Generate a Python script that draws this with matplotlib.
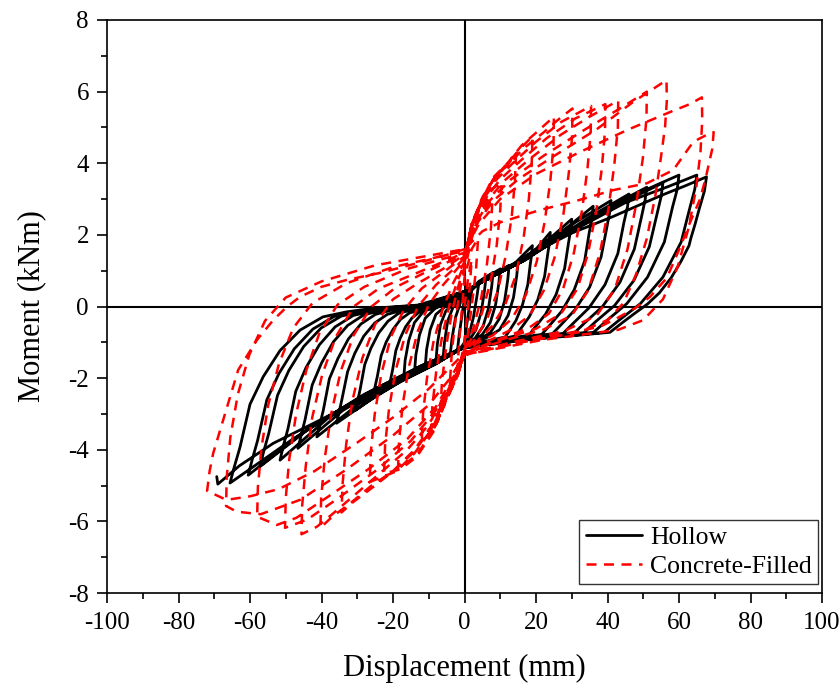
import matplotlib
matplotlib.use("Agg")
import matplotlib.pyplot as plt
import numpy as np
from matplotlib.ticker import MultipleLocator

plt.rcParams['font.family'] = ['Liberation Serif', 'DejaVu Serif']
plt.rcParams['axes.unicode_minus'] = False

# ---------------- data (displacement mm, moment kNm) ----------------
hollow_cycles = [
    [(0,0.0),(1,0.25),(2,0.45),(1.5,0.1),(0.5,-0.6),(0,-1.0),(-1,-1.15),(-2,-1.25),(-1.5,-0.8),(-0.5,-0.1),(0,0.2)],
    [(0,0.2),(2,0.45),(4,0.65),(3.5,0.3),(2.5,-0.3),(1,-0.9),(0,-1.1),(-2,-1.25),(-4,-1.35),(-3.5,-0.9),(-2.5,-0.3),(-1,0.15),(0,0.3)],
    [(0,0.3),(3,0.6),(6,0.8),(5.6,0.45),(4.7,-0.15),(3.2,-0.65),(1,-1.0),(0,-1.1),(-3,-1.3),(-6,-1.45),(-5.6,-1.0),(-4.7,-0.4),(-3.2,-0.02),(-1,0.2),(0,0.3)],
    [(0,0.3),(4,0.7),(8,0.95),(7.6,0.55),(6.7,-0.05),(5.2,-0.55),(3,-0.88),(0,-1.1),(-4,-1.35),(-8,-1.55),(-7.6,-1.05),(-6.7,-0.5),(-5.2,-0.12),(-2,0.15),(0,0.3)],
    [(0,0.3),(5,0.75),(10,1.05),(9.6,0.65),(8.7,0.05),(7.2,-0.45),(5,-0.78),(2,-1.0),(0,-1.1),(-5,-1.4),(-11,-1.7),(-10.6,-1.2),(-9.6,-0.65),(-8,-0.22),(-5,0.03),(-2,0.2),(0,0.35)],
    [(0,0.35),(6,0.8),(12.5,1.15),(12.1,0.75),(11.2,0.15),(9.7,-0.35),(7.3,-0.72),(4,-0.93),(0,-1.1),(-6,-1.45),(-14,-1.85),(-13.6,-1.35),(-12.6,-0.8),(-11,-0.33),(-8,-0.03),(-4,0.13),(0,0.35)],
    [(0,0.35),(7,0.85),(15,1.25),(14.6,0.85),(13.7,0.25),(12.2,-0.25),(9.8,-0.65),(6,-0.88),(0,-1.1),(-7,-1.5),(-17,-2.0),(-16.6,-1.5),(-15.6,-0.95),(-14,-0.45),(-11,-0.08),(-6,0.1),(0,0.38)],
    [(0,0.38),(8,0.9),(14,1.2),(19,1.7),(18.8,1.47),(18.4,1.18),(17.7,0.61),(16.2,0.04),(14.4,-0.39),(12.6,-0.67),(11.4,-0.85),(6,-0.97),(0,-1.12),(-8,-1.55),(-15,-1.85),(-21,-2.2),(-20.6,-2.0),(-20.1,-1.76),(-19.2,-1.23),(-18,-0.89),(-16.5,-0.57),(-14.7,-0.32),(-12.7,-0.16),(-10.6,-0.1),(-8.2,-0.05),(-4,0.15),(0,0.4)],
    [(0,0.4),(8,0.9),(15,1.25),(20,1.6),(24,2.07),(23.8,1.8),(23.3,1.48),(22.4,0.84),(20.5,0.19),(18.1,-0.29),(15.8,-0.61),(14.4,-0.82),(7,-0.97),(0,-1.12),(-8,-1.6),(-17,-2.05),(-25.5,-2.45),(-25,-2.23),(-24.4,-1.96),(-23.3,-1.37),(-21.9,-0.99),(-20,-0.64),(-17.9,-0.36),(-15.4,-0.18),(-12.8,-0.11),(-9.9,-0.05),(-5,0.15),(0,0.4)],
    [(0,0.4),(8,0.9),(15,1.25),(20,1.6),(25,2.0),(30,2.44),(29.7,2.14),(29.1,1.78),(28,1.06),(25.6,0.33),(22.7,-0.21),(19.8,-0.57),(18,-0.8),(9,-0.95),(0,-1.12),(-8,-1.6),(-17,-2.05),(-24,-2.45),(-30.5,-2.9),(-29.9,-2.64),(-29.2,-2.32),(-27.9,-1.62),(-26.2,-1.17),(-24,-0.74),(-21.4,-0.41),(-18.4,-0.19),(-15.3,-0.11),(-11.9,-0.05),(-6,0.12),(0,0.42)],
    [(0,0.42),(8,0.88),(15,1.2),(20,1.55),(28,2.15),(36,2.8),(35.7,2.47),(34.9,2.07),(33.6,1.27),(30.7,0.47),(27.2,-0.13),(23.8,-0.53),(21.6,-0.78),(11,-0.93),(0,-1.12),(-8,-1.6),(-18,-2.1),(-27,-2.65),(-35.8,-3.26),(-35.1,-2.96),(-34.3,-2.6),(-32.7,-1.82),(-30.7,-1.31),(-28.2,-0.83),(-25.1,-0.46),(-21.6,-0.22),(-18,-0.12),(-14,-0.06),(-7,0.1),(0,0.42)],
    [(0,0.42),(8,0.85),(16,1.25),(22,1.7),(31,2.35),(41,2.96),(40.6,2.62),(39.8,2.2),(38.2,1.38),(35,0.54),(31,-0.08),(27.1,-0.5),(24.6,-0.76),(12,-0.93),(0,-1.12),(-9,-1.6),(-20,-2.15),(-30,-2.75),(-41.3,-3.64),(-40.5,-3.31),(-39.5,-2.9),(-37.8,-2.02),(-35.4,-1.45),(-32.5,-0.91),(-29,-0.49),(-24.9,-0.22),(-20.8,-0.11),(-16.1,-0.04),(-8,0.08),(0,0.42)],
    [(0,0.42),(8,0.85),(17,1.3),(25,1.85),(35,2.5),(46,3.14),(45.6,2.78),(44.6,2.35),(42.9,1.48),(39.3,0.61),(34.8,-0.04),(30.4,-0.47),(27.6,-0.75),(13,-0.92),(0,-1.12),(-10,-1.62),(-22,-2.2),(-34,-2.9),(-46.6,-3.96),(-45.7,-3.6),(-44.6,-3.16),(-42.6,-2.19),(-40,-1.58),(-36.7,-0.99),(-32.7,-0.53),(-28.1,-0.23),(-23.5,-0.12),(-18.2,-0.04),(-9,0.07),(0,0.42)],
    [(0,0.42),(8,0.85),(17,1.3),(27,1.95),(39,2.7),(51,3.33),(50.5,2.96),(49.5,2.5),(47.5,1.6),(43.5,0.68),(38.6,0.0),(33.7,-0.45),(30.7,-0.74),(15,-0.92),(0,-1.12),(-10,-1.6),(-24,-2.25),(-38,-3.1),(-51.6,-4.29),(-50.7,-3.9),(-49.4,-3.42),(-47.2,-2.37),(-44.3,-1.7),(-40.6,-1.07),(-36.2,-0.57),(-31.1,-0.25),(-25.9,-0.13),(-20.2,-0.04),(-10,0.06),(0,0.42)],
    [(0,0.42),(8,0.85),(17,1.32),(28,2.0),(42,2.8),(55.5,3.45),(55,3.07),(53.9,2.6),(51.7,1.67),(47.4,0.73),(42,0.03),(36.6,-0.43),(33.4,-0.73),(16,-0.92),(0,-1.14),(-10,-1.6),(-25,-2.3),(-42,-3.3),(-57.2,-4.47),(-56.2,-4.06),(-54.8,-3.56),(-52.3,-2.48),(-49.1,-1.78),(-45,-1.12),(-40.1,-0.6),(-34.5,-0.27),(-28.8,-0.14),(-22.4,-0.05),(-11,0.05),(0,0.42)],
    [(0,0.42),(8,0.85),(17,1.35),(30,2.15),(45,3.0),(55,3.45),(60,3.67),(59.5,3.27),(58.2,2.78),(55.9,1.8),(51.2,0.82),(45.4,0.08),(39.6,-0.41),(36.1,-0.72),(18,-0.92),(0,-1.15),(-12,-1.65),(-28,-2.45),(-45,-3.5),(-60.5,-4.71),(-59.4,-4.28),(-57.9,-3.75),(-55.3,-2.61),(-51.9,-1.87),(-47.6,-1.18),(-42.4,-0.63),(-36.5,-0.28),(-30.5,-0.15),(-23.5,-0.05),(-12,0.04),(0,0.42)],
    [(0,0.42),(8,0.85),(17,1.35),(30,2.1),(45,2.9),(57,3.35),(65,3.67),(64.4,3.27),(63.1,2.78),(60.6,1.8),(55.5,0.82),(49.2,0.08),(42.9,-0.41),(39.1,-0.72),(20,-0.9),(0,-1.15),(-12,-1.65),(-30,-2.6),(-48,-3.7),(-65.6,-4.93),(-64.4,-4.48),(-62.8,-3.93),(-60,-2.73),(-56.3,-1.96),(-51.6,-1.23),(-46,-0.66),(-39.6,-0.29),(-33,-0.15),(-25.6,-0.05),(-13,0.04),(0,0.42)],
    [(0,0.42),(8,0.85),(17,1.38),(30,2.05),(41.5,2.51),(55,3.1),(62,3.38),(67.7,3.62),(67.1,3.22),(65.7,2.74),(64.5,2.3),(63.3,1.9),(62.8,1.7),(60.5,1.25),(57.8,0.8),(54.5,0.38),(51.2,0.07),(47.5,-0.2),(44.7,-0.41),(40.7,-0.72),(30,-0.82),(20,-0.9),(10,-1.0),(0,-1.15),(-10,-1.6),(-20,-2.05),(-34.8,-2.89),(-44.2,-3.36),(-53.5,-3.82),(-63,-4.45),(-69,-4.96),(-69.3,-4.75)],
]

filled_cycles = [
    [(0,0.0),(1,0.8),(2,1.3),(1.5,0.6),(0.5,-0.5),(0,-1.0),(-1,-1.5),(-2,-1.8),(-1.5,-1.0),(-0.5,0.2),(0,0.8)],
    [(0,0.8),(2,1.6),(3.8,1.9),(3.2,1.0),(2,0.0),(0.8,-0.9),(0,-1.2),(-2,-1.7),(-4,-2.0),(-3.5,-1.2),(-2.3,-0.2),(-1,0.6),(0,1.0)],
    [(0,1.0),(2,1.9),(4.5,2.6),(7.8,3.0),(7.4,2.2),(6.3,1.2),(4.7,0.25),(2.5,-0.6),(0.5,-1.1),(0,-1.2),(-2,-1.8),(-4.5,-2.4),(-6.7,-2.84),(-6.3,-2.1),(-5.1,-1.1),(-3.5,-0.15),(-1.5,0.65),(0,1.1)],
    [(0,1.1),(2,2.1),(5,2.85),(8,3.3),(10.4,3.47),(10,2.7),(9,1.7),(7.3,0.7),(5,-0.15),(2.5,-0.8),(0,-1.25),(-2,-1.9),(-5,-2.6),(-7.5,-3.2),(-9.4,-3.57),(-9,-2.8),(-7.9,-1.8),(-6.2,-0.8),(-4.2,0.05),(-2,0.7),(0,1.2)],
    [(0,1.2),(2,2.2),(5,3.0),(9,3.6),(12,3.95),(14.4,4.26),(14.1,3.5),(13.2,2.5),(11.5,1.4),(9.2,0.4),(6.3,-0.35),(3.2,-0.88),(0,-1.3),(-2,-1.95),(-5,-2.6),(-8.5,-3.4),(-12,-3.8),(-11.6,-3.0),(-10.5,-2.0),(-8.7,-1.0),(-6.2,-0.1),(-3.2,0.65),(0,1.25)],
    [(0,1.25),(2,2.3),(5,3.05),(8.5,3.6),(12,4.0),(16,4.45),(19,4.75),(18.8,4.0),(18,3.0),(16.5,1.9),(14.3,0.85),(11.3,0.03),(7.7,-0.55),(3.7,-0.95),(0,-1.3),(-2,-1.95),(-5,-2.55),(-8.7,-3.45),(-13.4,-4.15),(-18.6,-4.54),(-18.3,-3.75),(-17.3,-2.75),(-15.6,-1.7),(-13.1,-0.7),(-10,0.05),(-6,0.6),(-2.5,1.0),(0,1.3)],
    [(0,1.3),(2,2.3),(5,3.0),(8,3.6),(12,4.0),(16,4.5),(20,4.85),(25,5.3),(24.9,4.5),(24,3.5),(22.4,2.35),(20.2,1.25),(17.2,0.33),(13.2,-0.35),(8,-0.8),(3,-1.05),(0,-1.3),(-2,-1.95),(-5,-2.55),(-8.7,-3.5),(-13.4,-4.2),(-18,-4.55),(-22.5,-4.66),(-22.2,-3.85),(-21.1,-2.85),(-19.3,-1.8),(-16.6,-0.8),(-13,0.0),(-8,0.6),(-3,1.05),(0,1.35)],
    [(0,1.35),(2,2.3),(5,3.0),(8,3.55),(12,3.95),(17,4.45),(22,4.85),(26,5.2),(30.2,5.53),(30.1,4.75),(29.2,3.75),(27.7,2.6),(25.3,1.4),(22.2,0.45),(18.2,-0.25),(13,-0.65),(7,-0.95),(0,-1.3),(-2,-1.9),(-5,-2.5),(-9,-3.4),(-14,-4.1),(-19,-4.6),(-26.5,-4.9),(-26.2,-4.05),(-25.1,-3.0),(-23.3,-1.9),(-20.6,-0.85),(-17,-0.1),(-12,0.5),(-6,0.95),(0,1.4)],
    [(0,1.4),(2,2.25),(5,2.95),(9,3.55),(14,4.05),(20,4.6),(27,5.15),(35.4,5.6),(35.3,4.85),(34.4,3.85),(32.9,2.7),(30.6,1.5),(27.6,0.5),(23.6,-0.2),(18,-0.6),(10,-0.9),(0,-1.3),(-2,-1.9),(-5,-2.5),(-9,-3.35),(-14,-4.05),(-20,-4.6),(-25,-5.0),(-31,-5.45),(-34.4,-5.75),(-34.1,-4.95),(-33.1,-3.85),(-31.4,-2.65),(-28.6,-1.45),(-25,-0.5),(-20,0.2),(-13,0.65),(-6,1.05),(0,1.45)],
    [(0,1.45),(2,2.2),(5,2.9),(10,3.55),(16,4.1),(23,4.7),(31,5.25),(39.4,5.65),(39.3,4.9),(38.4,3.85),(36.9,2.7),(34.6,1.5),(31.6,0.5),(27,-0.2),(20,-0.62),(10,-0.93),(0,-1.32),(-2,-1.88),(-5,-2.45),(-9,-3.3),(-14,-4.0),(-20,-4.6),(-26,-5.0),(-32,-5.5),(-37,-5.87),(-40.3,-6.18),(-40.1,-5.35),(-39.1,-4.25),(-37.3,-3.0),(-34.6,-1.8),(-31,-0.8),(-26,0.0),(-19,0.55),(-10,1.0),(0,1.45)],
    [(0,1.45),(3,2.3),(6,2.9),(11,3.5),(18,4.1),(27,4.8),(35,5.3),(43,5.75),(42.9,5.0),(41.9,3.95),(40.3,2.75),(37.9,1.5),(34.6,0.45),(30,-0.25),(22,-0.65),(11,-0.95),(0,-1.32),(-2,-1.85),(-5,-2.4),(-10,-3.3),(-16,-4.0),(-23,-4.6),(-30,-5.2),(-37,-5.8),(-41.3,-6.15),(-45.6,-6.36),(-45.4,-5.55),(-44.4,-4.45),(-42.6,-3.1),(-39.8,-1.9),(-36,-0.85),(-31,0.0),(-24,0.5),(-13,0.95),(0,1.5)],
    [(0,1.5),(3,2.3),(7,2.95),(13,3.55),(22,4.2),(33,4.9),(43,5.5),(51,6.0),(50.9,5.25),(49.9,4.15),(48.1,2.9),(45.6,1.6),(42.1,0.5),(37,-0.25),(28,-0.68),(14,-0.98),(0,-1.33),(-3,-2.0),(-8,-2.9),(-15,-3.75),(-25,-4.6),(-36,-5.4),(-44,-5.95),(-50.2,-6.18),(-50,-5.35),(-49,-4.25),(-47.1,-3.0),(-44.3,-1.8),(-40.6,-0.75),(-35.5,0.05),(-28,0.55),(-16,1.05),(0,1.5)],
    [(0,1.5),(3,2.25),(8,2.95),(15,3.55),(25,4.2),(37,4.95),(47,5.7),(56.5,6.32),(56.6,5.75),(56.1,5.02),(55,4.2),(53.4,3.1),(51,1.9),(48,0.9),(44.5,0.1),(40,-0.38),(32,-0.72),(16,-1.0),(0,-1.35),(-3,-1.95),(-8,-2.8),(-16,-3.7),(-27,-4.55),(-38,-5.3),(-47,-5.9),(-52.5,-6.1),(-58,-5.87),(-57.8,-5.05),(-56.8,-3.95),(-54.9,-2.75),(-51.9,-1.6),(-47.9,-0.6),(-42.5,0.1),(-33,0.65),(-20,1.1),(0,1.55)],
    [(0,1.55),(4,2.3),(10,3.0),(20,3.7),(32,4.3),(46,4.95),(58,5.45),(63,5.65),(66.4,5.84),(66.5,5.2),(66,4.3),(64.8,3.3),(62.7,2.2),(59.6,1.1),(55.5,0.2),(50,-0.38),(43,-0.65),(35,-0.76),(22,-0.93),(0,-1.35),(-4,-2.0),(-10,-2.75),(-20,-3.6),(-33,-4.55),(-46,-5.4),(-57,-5.8),(-63.7,-5.73),(-66.7,-5.57),(-66.5,-4.75),(-65.5,-3.65),(-63.4,-2.45),(-60.2,-1.35),(-55.8,-0.4),(-50,0.25),(-40,0.7),(-25,1.15),(0,1.6)],
    [(0,1.6),(5,2.1),(10,2.35),(21,2.69),(32,2.97),(41.6,3.25),(51,3.44),(58.4,3.81),(64,4.6),(68.7,4.84),(69.7,4.87),(69.3,4.4),(67.5,3.6),(65.9,3.0),(63.1,2.35),(60.3,1.65),(56.6,0.8),(51.9,0.27),(47.7,-0.05),(42.6,-0.33),(38,-0.56),(33.3,-0.66),(20,-0.9),(0,-1.3),(-5,-1.8),(-10,-2.3),(-20,-3.1),(-30,-3.8),(-42,-4.6),(-52,-5.1),(-60,-5.3),(-66.6,-5.4),(-72,-5.15),(-71.3,-4.6),(-70.3,-4.1),(-67.5,-3.17),(-63.3,-1.77),(-58.1,-0.94),(-53.5,-0.38),(-49.7,-0.01),(-46,0.27),(-40,0.55),(-33,0.74),(-24,0.93),(-17,1.11),(-10,1.3),(-5,1.44),(0,1.6)],
]

x_ticks = [-100, -80, -60, -40, -20, 0, 20, 40, 60, 80, 100]
y_ticks = [-8, -6, -4, -2, 0, 2, 4, 6, 8]
series_labels = ["Hollow", "Concrete-Filled"]


def trace(cycles):
    pts = [p for c in cycles for p in c]
    return np.array([p[0] for p in pts]), np.array([p[1] for p in pts])


hx, hy = trace(hollow_cycles)
fx, fy = trace(filled_cycles)

fig = plt.figure(figsize=(8.4, 6.84), dpi=100)
ax = fig.add_axes([107/840, 91/684, 715/840, 573/684])

ax.axhline(0, color='black', lw=1.5, zorder=1)
ax.axvline(0, color='black', lw=1.5, zorder=1)

ax.plot(hx, hy, color='black', lw=2.0, label=series_labels[0], zorder=2,
        solid_joinstyle='round', solid_capstyle='round')
ax.plot(fx, fy, color='red', lw=1.8, ls=(0, (4.0, 3.0)), label=series_labels[1],
        zorder=3)

ax.set_xlim(-100, 100)
ax.set_ylim(-8, 8)
ax.set_xticks(x_ticks)
ax.set_yticks(y_ticks)
ax.xaxis.set_minor_locator(MultipleLocator(10))
ax.yaxis.set_minor_locator(MultipleLocator(1))
ax.tick_params(which='both', direction='out', top=False, right=False,
               labelsize=18, width=1.2)
ax.tick_params(which='major', length=7)
ax.tick_params(axis='x', which='major', pad=7)
ax.tick_params(axis='y', which='major', pad=6)
ax.tick_params(which='minor', length=4)
for s in ax.spines.values():
    s.set_linewidth(1.2)

ax.set_xlabel('Displacement (mm)', fontsize=22, labelpad=14)
ax.set_ylabel('Moment (kNm)', fontsize=22, labelpad=16)

leg = ax.legend(loc='lower right', bbox_to_anchor=(0.9944, 0.0157),
                borderaxespad=0, fontsize=18.5, frameon=True, fancybox=False,
                edgecolor='black', handlelength=2.2, handletextpad=0.3,
                borderpad=0.25, labelspacing=0.2)
leg.get_frame().set_linewidth(1.0)

fig.savefig('out.png', dpi=100)
